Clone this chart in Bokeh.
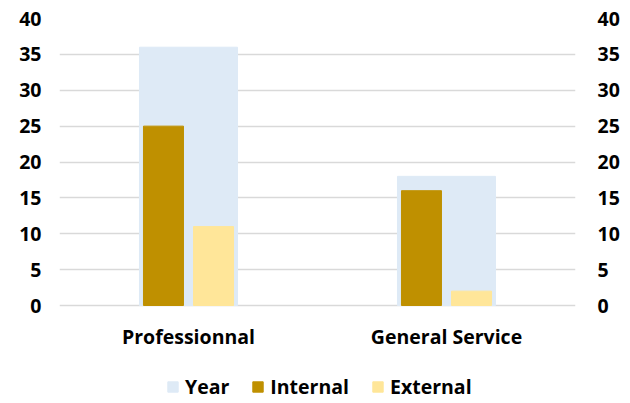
from bokeh.plotting import figure
from bokeh.models import (ColumnDataSource, FactorRange, Range1d, LinearAxis, FixedTicker,
                          Legend, LegendItem)
from bokeh.core.properties import value
from bokeh.transform import dodge
from bokeh.embed import file_html
from bokeh.resources import INLINE

categories = ["Professionnal", "General Service"]
year = [36, 18]
internal = [25, 16]
external = [11, 2]
y_ticks = [0, 5, 10, 15, 20, 25, 30, 35, 40]

FONT = "Open Sans"
FS = "19.5px"
C_YEAR = "#DEEAF6"
C_INT = "#BF9000"
C_EXT = "#FFE699"

# layout: plot area for 0..40 is 287px tall; extra 98px below for labels and legend
PLOT_H = 287
BELOW_H = 98
px_per_unit = PLOT_H / max(y_ticks)
y_start = -BELOW_H / px_per_unit
label_y = -31 / px_per_unit

src = ColumnDataSource(dict(cat=categories, year=year, internal=internal, external=external,
                            ly=[label_y] * len(categories)))

p = figure(frame_width=516, frame_height=PLOT_H + BELOW_H, x_range=FactorRange(*categories),
           y_range=Range1d(y_start, max(y_ticks)),
           output_backend="svg", toolbar_location=None,
           min_border_left=59, min_border_right=55, min_border_top=18, min_border_bottom=0)
p.outline_line_color = None

r_year = p.vbar(x="cat", top="year", width=0.38, source=src, color=C_YEAR)
r_int = p.vbar(x=dodge("cat", -0.097, range=p.x_range), top="internal", width=0.155,
               source=src, color=C_INT)
r_ext = p.vbar(x=dodge("cat", 0.097, range=p.x_range), top="external", width=0.155,
               source=src, color=C_EXT)

# category labels
p.text(x="cat", y="ly", text="cat", source=src, text_align="center", text_baseline="middle",
       text_font=value(FONT), text_font_style="bold", text_font_size=FS, text_color="#000000")

p.xgrid.grid_line_color = None
p.ygrid.ticker = FixedTicker(ticks=y_ticks)
p.ygrid.grid_line_color = "#D9D9D9"
p.ygrid.grid_line_width = 1.5
p.xaxis.visible = False

def style_axis(ax):
    ax.axis_line_color = None
    ax.major_tick_line_color = None
    ax.minor_tick_line_color = None
    ax.major_tick_out = 0
    ax.major_tick_in = 0
    ax.minor_tick_out = 0
    ax.minor_tick_in = 0
    ax.major_label_text_font = FONT
    ax.major_label_text_font_style = "bold"
    ax.major_label_text_font_size = FS
    ax.major_label_text_color = "#000000"

style_axis(p.yaxis[0])
p.yaxis[0].ticker = FixedTicker(ticks=y_ticks)
p.yaxis[0].major_label_standoff = 18

ra = LinearAxis(ticker=FixedTicker(ticks=y_ticks))
style_axis(ra)
ra.major_label_standoff = 22
p.add_layout(ra, "right")

legend = Legend(items=[LegendItem(label="Year", renderers=[r_year]),
                       LegendItem(label="Internal", renderers=[r_int]),
                       LegendItem(label="External", renderers=[r_ext])],
                orientation="horizontal", location=(107, 3),
                label_text_font=FONT, label_text_font_style="bold",
                label_text_font_size=FS, label_text_color="#000000",
                label_height=20,
                glyph_width=13, glyph_height=13,
                spacing=22, label_standoff=6, border_line_color=None,
                background_fill_alpha=0, margin=0, padding=2)
p.add_layout(legend, "center")

open("out.html", "w").write(file_html(p, INLINE))
